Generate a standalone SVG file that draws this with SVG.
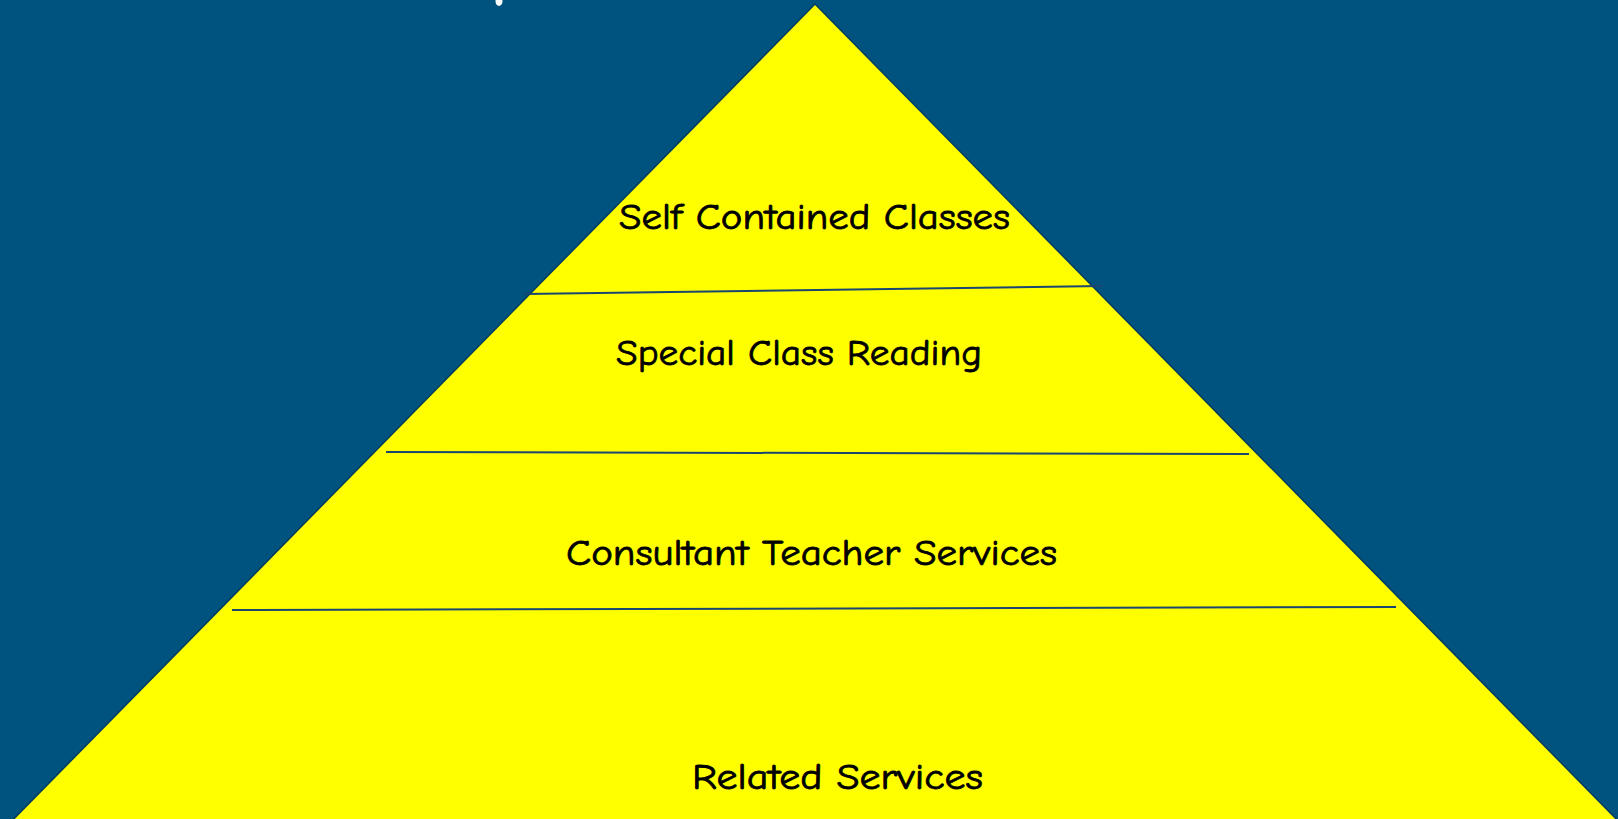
<svg xmlns="http://www.w3.org/2000/svg" width="1618" height="819" viewBox="0 0 1618 819">
<style>
.lbl{font-family:"Comic Sans MS","Comic Neue","DejaVu Sans",sans-serif;font-size:36px;fill:#000;stroke:#000;stroke-width:0.8}
.div{stroke:#1A4670;stroke-width:2;fill:none}
</style>
<rect width="1618" height="819" fill="#00527F"/>
<ellipse cx="499" cy="1" rx="3.5" ry="5" fill="#fff"/>
<g id="pyramid">
<polygon points="815,4 -2,835 1632,835" fill="#FFFF00" stroke="#003C5F" stroke-width="1.5"/>
</g>
<g id="connectors">
<line class="div" x1="524" y1="294" x2="1102" y2="286"/>
<line class="div" x1="386" y1="452" x2="1249" y2="454"/>
<line class="div" x1="232" y1="610" x2="1396" y2="607"/>
</g>
<g id="tier1"><text class="lbl" x="619" y="229" textLength="391" lengthAdjust="spacingAndGlyphs">Self Contained Classes</text></g>
<g id="tier2"><text class="lbl" x="616" y="365" textLength="366" lengthAdjust="spacingAndGlyphs">Special Class Reading</text></g>
<g id="tier3"><text class="lbl" x="566" y="565" textLength="491" lengthAdjust="spacingAndGlyphs">Consultant Teacher Services</text></g>
<g id="tier4"><text class="lbl" x="692" y="789" textLength="291" lengthAdjust="spacingAndGlyphs">Related Services</text></g>
</svg>
